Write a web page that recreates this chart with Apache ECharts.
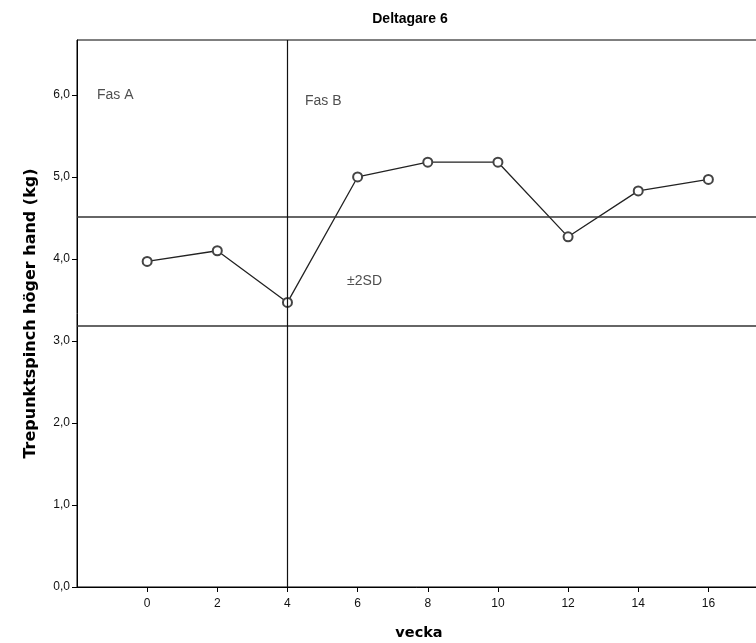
<!DOCTYPE html>
<html><head><meta charset="utf-8">
<script src="https://cdn.jsdelivr.net/npm/echarts@6/dist/echarts.min.js"></script>
<style>html,body{margin:0;padding:0;background:#fff}#c{width:756px;height:643px}</style>
</head><body><div id="c"></div>
<script>
var weeks = [0, 2, 4, 6, 8, 10, 12, 14, 16];
var values = [3.97, 4.10, 3.47, 5.00, 5.18, 5.18, 4.27, 4.83, 4.97];
var yTicks = [0, 1, 2, 3, 4, 5, 6];
var xTicks = [0, 2, 4, 6, 8, 10, 12, 14, 16];
var sdUpper = 4.51, sdLower = 3.18, phaseChange = 4;
var notes = [
  {name: 'Fas A', x: -1.43, y: 6.0},
  {name: 'Fas B', x: 4.5, y: 5.93},
  {name: '±2SD', x: 5.7, y: 3.73}
];
var F = 'Liberation Sans, Arial, sans-serif';
var FN = 'DejaVu Sans, Verdana, sans-serif';
var chart = echarts.init(document.getElementById('c'));
chart.setOption({
  animation: false,
  title: {text: 'Deltagare 6', left: 405, top: 7, textAlign: 'center',
    textStyle: {fontFamily: F, fontSize: 14, fontWeight: 'bold', color: '#000'}},
  grid: {left: 77, top: 40, width: 684, height: 547, show: true, borderColor: '#000', borderWidth: 1,
    containLabel: false, outerBoundsMode: 'none'},
  xAxis: {type: 'value', min: -2, max: 17.5,
    name: 'vecka', nameLocation: 'middle', nameGap: 39,
    nameTextStyle: {fontFamily: FN, fontSize: 14.5, fontWeight: 'bold', color: '#000'},
    axisLine: {onZero: false, lineStyle: {color: '#000'}},
    axisTick: {customValues: xTicks, length: 5, lineStyle: {color: '#000'}},
    axisLabel: {customValues: xTicks, fontFamily: F, fontSize: 12, color: '#111', margin: 11},
    splitLine: {show: false}},
  yAxis: {type: 'value', min: 0, max: 6.67,
    name: 'Trepunktspinch höger hand (kg)', nameLocation: 'middle', nameGap: 38,
    nameTextStyle: {fontFamily: FN, fontSize: 16, fontWeight: 'bold', color: '#000'},
    axisLine: {onZero: false, lineStyle: {color: '#000'}},
    axisTick: {customValues: yTicks, length: 5, lineStyle: {color: '#000'}},
    axisLabel: {customValues: yTicks, fontFamily: F, fontSize: 12, color: '#111', margin: 7,
      formatter: function(v){ return v.toFixed(1).replace('.', ','); }},
    splitLine: {show: false}},
  series: [
    {type: 'line', data: weeks.map(function(w, i){ return [w, values[i]]; }),
      symbol: 'emptyCircle', symbolSize: 9, showAllSymbol: true,
      lineStyle: {color: '#222', width: 1.3},
      itemStyle: {color: '#444', borderWidth: 1},
      markLine: {silent: true, symbol: 'none', label: {show: false},
        lineStyle: {color: '#333', width: 1.5, type: 'solid'},
        data: [{yAxis: sdUpper}, {yAxis: sdLower}, {xAxis: phaseChange, lineStyle: {color: '#111', width: 1.2}}]}},
    {type: 'scatter', symbolSize: 0, silent: true,
      data: notes.map(function(n){ return {name: n.name, value: [n.x, n.y]}; }),
      label: {show: true, position: 'right', distance: 0, formatter: '{b}',
        fontFamily: F, fontSize: 14, color: '#222'}}
  ]
});
</script></body></html>
